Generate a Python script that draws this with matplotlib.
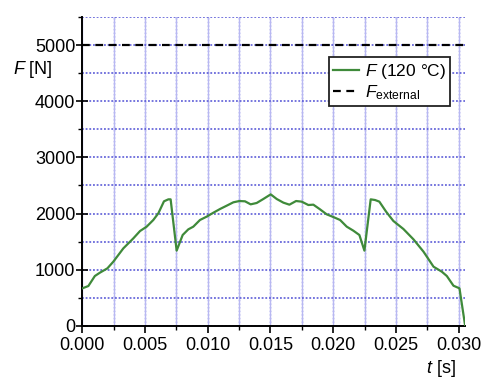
import matplotlib
matplotlib.use("Agg")
import matplotlib.pyplot as plt
from matplotlib.ticker import MultipleLocator, FormatStrFormatter

plt.rcParams['font.family'] = ['Liberation Sans', 'DejaVu Sans']
plt.rcParams['mathtext.fontset'] = 'custom'
plt.rcParams['mathtext.rm'] = 'Liberation Sans'
plt.rcParams['mathtext.it'] = 'Liberation Sans:italic'

# Contact force over time at 120 °C
t_s = [0.0, 0.00048, 0.0010, 0.0014, 0.0020, 0.00247, 0.00327, 0.00407, 0.0046,
       0.00513, 0.00566, 0.00606, 0.00651, 0.00686, 0.00704, 0.00752, 0.0080,
       0.00845, 0.00885, 0.00938, 0.00991, 0.01045, 0.01098, 0.01151, 0.01204,
       0.01252, 0.01297, 0.01342, 0.0139, 0.01443, 0.01502, 0.0155, 0.01603,
       0.01651, 0.01704, 0.01749, 0.01802, 0.01842, 0.01895, 0.01948, 0.02001,
       0.02055, 0.02108, 0.02161, 0.02209, 0.02249, 0.02299, 0.02334, 0.02368,
       0.02422, 0.0248, 0.0256, 0.0264, 0.0272, 0.0280, 0.02866, 0.02906,
       0.02959, 0.03007, 0.03052]
force_N = [666, 707, 886, 945, 1023, 1141, 1379, 1558, 1688,
           1766, 1885, 2004, 2218, 2253, 2253, 1338, 1617,
           1718, 1766, 1885, 1944, 2015, 2081, 2140, 2200,
           2223, 2218, 2164, 2188, 2259, 2342, 2259, 2194,
           2158, 2223, 2212, 2152, 2158, 2075, 1986, 1938,
           1885, 1766, 1694, 1617, 1338, 2253, 2241, 2212,
           2033, 1867, 1724, 1540, 1320, 1052, 963, 886,
           713, 666, 0]
f_external = 5000
x_ticks = [0.000, 0.005, 0.010, 0.015, 0.020, 0.025, 0.030]
y_ticks = [0, 1000, 2000, 3000, 4000, 5000]

fig = plt.figure(figsize=(4.82, 3.78), dpi=100)
ax = fig.add_axes([0.1708, 0.1384, 0.7942, 0.8174])

ax.set_xlim(0.0, 0.03052)
ax.set_ylim(0, 5510)

# grid: vertical lines light solid with dotted overlay, horizontal dotted
for which in ('major', 'minor'):
    ax.grid(True, which=which, axis='x', color='#b8b8f2', linestyle='-', linewidth=1.0, zorder=0)
    ax.grid(True, which=which, axis='y', color='#4f4fd4', linestyle=(0, (1.2, 1.2)), linewidth=1.1, zorder=0)
for xv in [i * 0.0025 for i in range(1, 13)]:
    ax.axvline(xv, color='#5c5cdc', linestyle=(0, (1.0, 1.6)), linewidth=1.0, zorder=0.5)

ax.plot(t_s, force_N, color='#3f8a3a', linewidth=1.6, label=r'$F$ (120 °C)', zorder=3)
ax.plot([0.0, 0.03052], [f_external, f_external], color='black', linestyle=(0, (3.5, 2.5)),
        linewidth=1.6, label=r'$F_{\mathrm{external}}$', zorder=3)

ax.set_xticks(x_ticks)
ax.set_yticks(y_ticks)
ax.xaxis.set_minor_locator(MultipleLocator(0.0025))
ax.yaxis.set_minor_locator(MultipleLocator(500))
ax.xaxis.set_major_formatter(FormatStrFormatter('%.3f'))

ax.tick_params(axis='x', which='major', direction='out', length=5, width=1.2, labelsize=13, pad=3)
ax.tick_params(axis='x', which='minor', direction='out', length=3, width=1.0)
ax.tick_params(axis='y', which='major', direction='inout', length=8, width=1.2, labelsize=13, pad=1)
ax.tick_params(axis='y', which='minor', direction='out', length=3, width=1.0)

for side in ('top', 'right'):
    ax.spines[side].set_visible(False)
for side in ('left', 'bottom'):
    ax.spines[side].set_linewidth(1.4)

fig.text(0.027, 0.815, r'$F$ [N]', fontsize=13, ha='left', va='center')
fig.text(0.915, 0.025, r'$t$ [s]', fontsize=13, ha='center', va='center')

leg = ax.legend(loc='upper right', bbox_to_anchor=(0.97, 0.88), fontsize=12.5,
                handlelength=1.5, handletextpad=0.3, borderpad=0.25, labelspacing=0.15,
                fancybox=False, framealpha=1.0, borderaxespad=0.2)
leg.get_frame().set_edgecolor('#222222')
leg.get_frame().set_linewidth(1.3)

fig.savefig('out.png', dpi=100)
